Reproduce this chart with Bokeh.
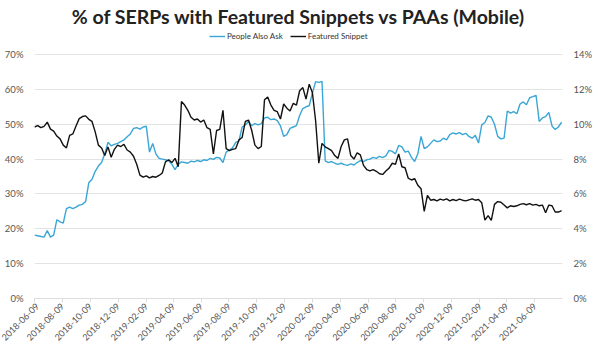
import pandas as pd
from math import pi
from bokeh.plotting import figure
from bokeh.models import (Range1d, LinearAxis, FixedTicker, PrintfTickFormatter,
                          DatetimeTickFormatter, Legend, LegendItem, ColumnDataSource)
from bokeh.embed import file_html
from bokeh.resources import INLINE

dates = pd.date_range("2018-06-09", periods=166, freq="7D")

tick_labels = ["2018-06-09", "2018-08-09", "2018-10-09", "2018-12-09", "2019-02-09",
               "2019-04-09", "2019-06-09", "2019-08-09", "2019-10-09", "2019-12-09",
               "2020-02-09", "2020-04-09", "2020-06-09", "2020-08-09", "2020-10-09",
               "2020-12-09", "2021-02-09", "2021-04-09", "2021-06-09"]

# People Also Ask, % of SERPs (left axis)
paa = [18.2, 18.0, 17.8, 17.6, 19.5, 17.6, 18.2, 22.6, 22.0, 21.6,
       25.8, 26.2, 25.8, 26.2, 26.8, 27.0, 27.8, 33.2, 34.2, 36.5,
       38.0, 39.0, 41.5, 44.8, 43.8, 44.2, 44.5, 45.0, 45.5, 46.4,
       47.2, 48.8, 49.0, 48.6, 49.2, 49.4, 42.0, 44.5, 41.5, 40.2,
       40.0, 39.8, 39.5, 38.5, 37.0, 38.5, 39.2, 39.0, 38.8, 39.4,
       39.2, 39.6, 39.3, 39.8, 39.6, 40.2, 39.9, 40.5, 40.3, 39.0,
       42.0, 42.6, 43.2, 44.8, 45.2, 49.2, 49.8, 50.8, 49.6, 50.2,
       49.8, 50.2, 51.8, 52.0, 51.3, 51.5, 51.0, 49.5, 46.5, 47.0,
       48.8, 49.2, 49.6, 52.5, 54.5, 55.0, 55.3, 59.0, 62.2, 62.0,
       62.3, 39.5, 39.0, 39.3, 38.8, 38.5, 38.8, 38.4, 38.2, 38.6,
       38.3, 39.0, 39.6, 39.3, 39.8, 40.0, 40.5, 40.2, 40.8, 40.4,
       40.9, 42.5, 42.2, 41.5, 43.9, 43.5, 42.0, 42.3, 40.5, 39.3,
       41.5, 46.5, 43.0, 43.5, 44.5, 45.5, 45.0, 45.2, 46.0, 45.5,
       47.0, 47.5, 47.2, 47.6, 47.0, 47.4, 46.5, 46.0, 46.8, 44.6,
       49.8, 50.5, 52.4, 52.0, 50.0, 46.5, 45.8, 46.0, 53.8, 53.2,
       53.6, 53.0, 55.8, 56.4, 55.6, 57.6, 57.9, 58.3, 50.8, 51.8,
       52.2, 53.4, 49.5, 48.5, 49.2, 50.6]

# Featured Snippet, % of SERPs (right axis)
fs = [9.84, 9.92, 9.80, 9.88, 10.12, 9.72, 9.60, 9.32, 9.16, 8.80,
      8.64, 9.36, 9.44, 9.90, 10.32, 10.44, 10.48, 10.28, 10.16, 9.56,
      8.80, 8.64, 8.20, 8.70, 8.10, 8.56, 8.80, 8.72, 8.84, 8.52,
      8.40, 8.16, 7.70, 7.08, 6.96, 7.04, 6.92, 7.00, 6.96, 7.06,
      7.20, 7.84, 7.96, 7.80, 8.04, 7.56, 11.30, 11.10, 10.80, 10.40,
      10.24, 10.30, 10.12, 10.24, 9.80, 9.70, 8.30, 9.64, 9.70, 10.80,
      8.60, 8.48, 8.56, 8.60, 9.10, 9.24, 10.16, 10.24, 9.64, 8.80,
      8.60, 8.72, 11.40, 11.56, 11.10, 10.80, 10.72, 10.30, 11.16, 10.92,
      10.76, 11.20, 11.10, 11.92, 12.10, 11.44, 12.30, 11.80, 10.20, 7.76,
      8.90, 8.70, 8.60, 8.48, 8.20, 8.04, 8.72, 9.10, 9.16, 8.20,
      8.00, 8.36, 8.24, 7.64, 7.40, 7.32, 7.40, 7.30, 7.16, 7.12,
      7.32, 7.48, 7.76, 7.70, 8.30, 7.56, 7.50, 6.90, 6.80, 6.88,
      6.50, 6.30, 5.00, 5.92, 5.64, 5.68, 5.60, 5.70, 5.64, 5.72,
      5.60, 5.68, 5.62, 5.70, 5.64, 5.60, 5.66, 5.72, 5.64, 5.68,
      5.50, 4.50, 4.76, 4.48, 5.40, 5.56, 5.52, 5.36, 5.20, 5.32,
      5.28, 5.32, 5.40, 5.44, 5.38, 5.44, 5.36, 5.40, 5.32, 5.36,
      4.92, 5.36, 5.32, 4.96, 4.96, 5.04]

left_ticks = [0, 10, 20, 30, 40, 50, 60, 70]
right_ticks = [0, 2, 4, 6, 8, 10, 12, 14]

FONT = "Lato"
LABEL_COLOR = "#555555"
FRAME_W = 528
GRID_H = 244          # pixel height of the 0-70% band
HEAD = 25             # blank band above the 70% line that holds the legend
FRAME_H = GRID_H + HEAD
LEFT_TOP = 70 * FRAME_H / GRID_H
RIGHT_TOP = 14 * FRAME_H / GRID_H

src = ColumnDataSource(dict(date=dates, paa=paa, fs=fs))

p = figure(frame_width=FRAME_W, frame_height=FRAME_H, x_axis_type="datetime",
           output_backend="svg", toolbar_location=None,
           x_range=Range1d(pd.Timestamp("2018-06-09"), pd.Timestamp("2021-08-09")),
           y_range=Range1d(0, LEFT_TOP),
           min_border_left=34, min_border_right=22, min_border_bottom=40,
           min_border_top=27)
p.extra_y_ranges = {"fs": Range1d(0, RIGHT_TOP)}

p.title.text = "% of SERPs with Featured Snippets vs PAAs (Mobile)"
p.title.align = "center"
p.title.text_font = FONT
p.title.text_font_size = "19.5px"
p.title.text_font_style = "bold"
p.title.text_color = "#222222"
p.title.standoff = 4

r1 = p.line("date", "paa", source=src, line_color="#3aa6d6", line_width=1.4)
r2 = p.line("date", "fs", source=src, y_range_name="fs", line_color="#111111", line_width=1.4)

p.yaxis.ticker = FixedTicker(ticks=left_ticks)
p.yaxis.formatter = PrintfTickFormatter(format="%d%%")

ra = LinearAxis(y_range_name="fs", ticker=FixedTicker(ticks=right_ticks),
                formatter=PrintfTickFormatter(format="%d%%"))
p.add_layout(ra, "right")

for ax in (p.yaxis[0], ra):
    ax.axis_line_color = None
    ax.major_tick_line_color = None
    ax.minor_tick_line_color = None
    ax.major_label_text_font = FONT
    ax.major_label_text_font_size = "9.5px"
    ax.major_label_text_color = LABEL_COLOR
    ax.major_label_standoff = 5

xa = p.xaxis[0]
xa.ticker = FixedTicker(ticks=[pd.Timestamp(t).value / 1e6 for t in tick_labels])
fmt = "%Y-%m-%d"
xa.formatter = DatetimeTickFormatter(milliseconds=fmt, seconds=fmt, minsec=fmt, minutes=fmt,
                                     hourmin=fmt, hours=fmt, days=fmt, months=fmt, years=fmt)
xa.major_label_orientation = pi / 4
xa.axis_line_color = "#dddddd"
xa.major_tick_line_color = "#dddddd"
xa.major_tick_in = 0
xa.major_tick_out = 4
xa.minor_tick_line_color = None
xa.major_label_text_font = FONT
xa.major_label_text_font_size = "9px"
xa.major_label_text_color = LABEL_COLOR
xa.major_label_standoff = 2

p.xgrid.grid_line_color = None
p.ygrid.grid_line_color = "#e3e3e3"
p.outline_line_color = None

legend = Legend(items=[LegendItem(label="People Also Ask", renderers=[r1]),
                       LegendItem(label="Featured Snippet", renderers=[r2])],
                orientation="horizontal", location=(175, FRAME_H - 12),
                border_line_color=None, background_fill_alpha=0,
                label_text_font=FONT, label_text_font_size="8px",
                label_text_color="#333333", label_height=10,
                glyph_width=16, glyph_height=8, spacing=7, padding=0, margin=0,
                label_standoff=2)
p.add_layout(legend, "center")

open("out.html", "w").write(file_html(p, INLINE))
